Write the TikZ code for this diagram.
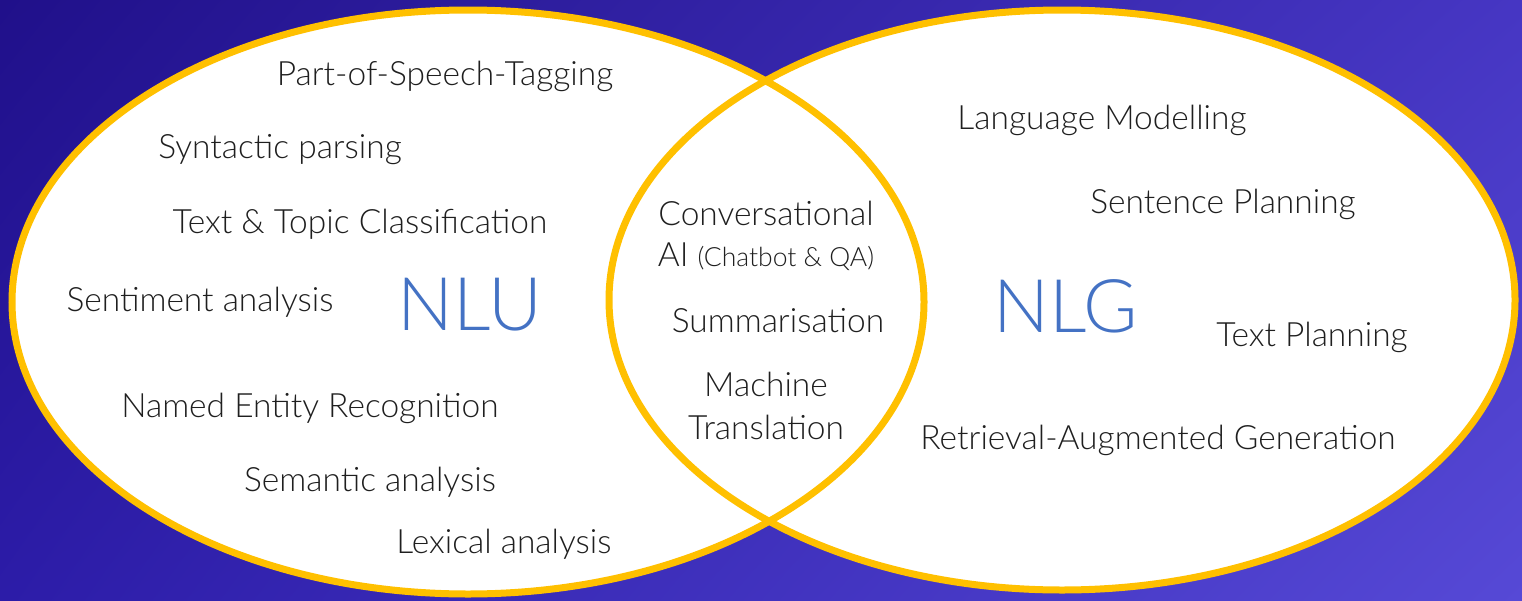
\documentclass[tikz,border=0pt]{standalone}
\usepackage{fontspec}
\setmainfont{Lato Light}
\usetikzlibrary{shadings}
\begin{document}
\begin{tikzpicture}[x=1pt,y=-1pt,
  ring/.style={draw=gold,line width=7pt},
  lbl/.style={text=ink,font=\fontsize{33.5}{38}\selectfont,inner sep=0pt,anchor=center},
  big/.style={text=nlblue,font=\fontsize{74}{84}\selectfont,inner sep=0pt,anchor=center}]
\definecolor{gold}{HTML}{FFC000}
\definecolor{ink}{HTML}{1F1F1F}
\definecolor{nlblue}{HTML}{4472C4}
\definecolor{bgul}{HTML}{20108A}
\definecolor{bgur}{HTML}{4636C3}
\definecolor{bgll}{HTML}{2C1CA8}
\definecolor{bglr}{HTML}{5649D6}
\useasboundingbox (0,0) rectangle (1522,600);
\shade[upper left=bgul,upper right=bgur,lower left=bgll,lower right=bglr] (0,0) rectangle (1522,600);
% fills
\fill[white] (468,302) ellipse [x radius=456pt, y radius=292pt];
\fill[white] (1062,300) ellipse [x radius=453pt, y radius=290pt];
% borders
\draw[ring] (468,302) ellipse [x radius=456pt, y radius=292pt];
\draw[ring] (1062,300) ellipse [x radius=453pt, y radius=290pt];
% NLU side
\node[lbl] (pos) at (445,76) {Part-of-Speech-Tagging};
\node[lbl] (syn) at (280,150) {Syntactic parsing};
\node[lbl] (ttc) at (360,224) {Text \& Topic Classification};
\node[lbl] (sen) at (200,302) {Sentiment analysis};
\node[big] (nlu) at (470,305) {NLU};
\node[lbl] (ner) at (310,408) {Named Entity Recognition};
\node[lbl] (sem) at (370,482) {Semantic analysis};
\node[lbl] (lex) at (504,544) {Lexical analysis};
% middle
\node[lbl] (conv) at (766,213) {Conversational};
\node[lbl] (ai) at (766,257) {AI {\fontsize{26.5}{30}\selectfont(Chatbot \& QA)}};
\node[lbl] (sum) at (778,321) {Summarisation};
\node[lbl] (mach) at (766,384) {Machine};
\node[lbl] (tran) at (766,427) {Translation};
% NLG side
\node[big] (nlg) at (1066,306) {NLG};
\node[lbl] (lm) at (1102,120) {Language Modelling};
\node[lbl] (sp) at (1223,204) {Sentence Planning};
\node[lbl] (tp) at (1312,337) {Text Planning};
\node[lbl] (rag) at (1158,440) {Retrieval-Augmented Generation};
\end{tikzpicture}
\end{document}
